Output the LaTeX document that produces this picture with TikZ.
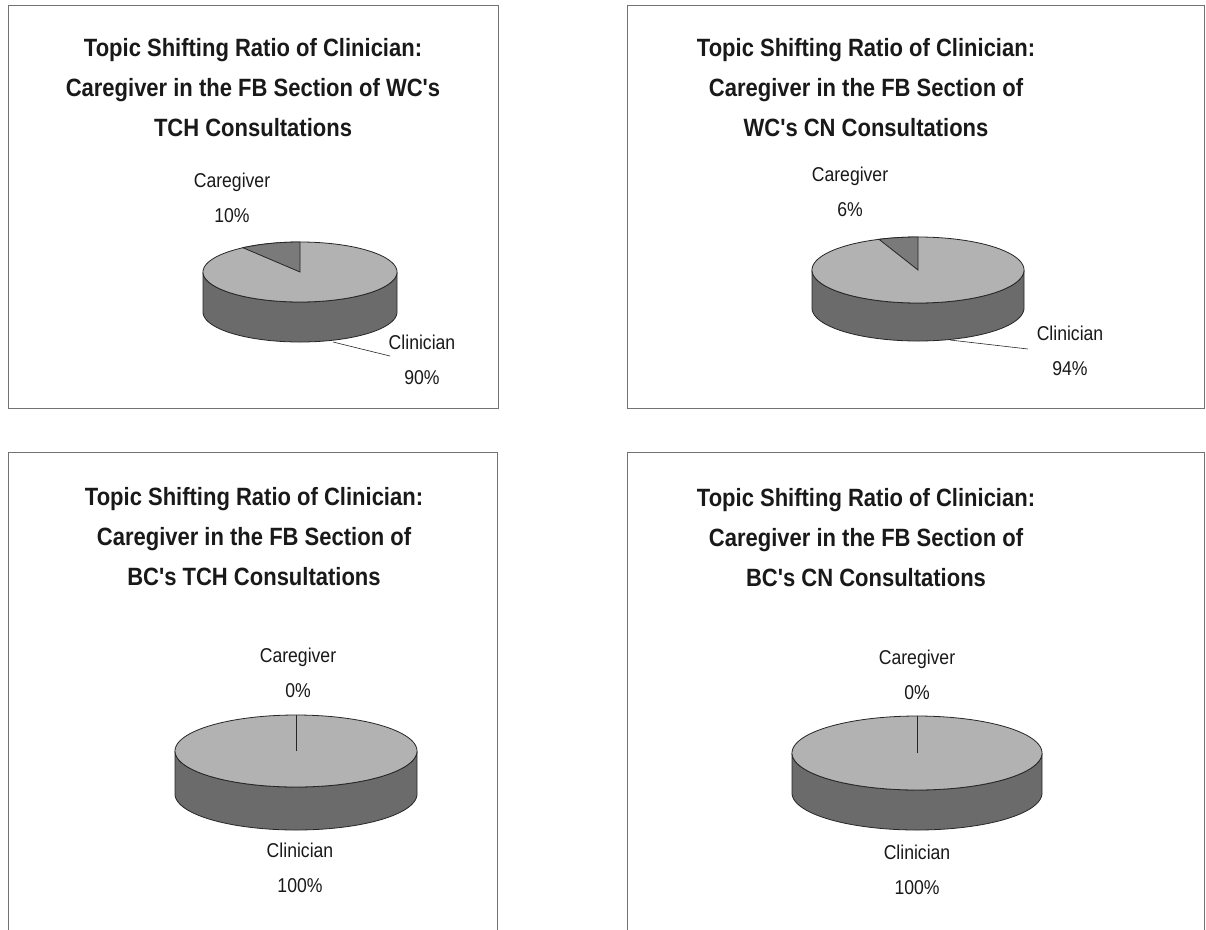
\documentclass[tikz,border=0pt]{standalone}
\usepackage{fontspec}
\setmainfont{Liberation Sans}
\newfontfamily\condfont{Liberation Sans}[FakeStretch=0.88]
\newcommand{\cylpie}[6]{%
  % #1 cx, #2 cy, #3 rx, #4 ry, #5 depth, #6 caregiver slice angle
  \filldraw[sideface] plot[domain=0:180,samples=90] ({#1+#3*cos(\x)},{#2+#5+#4*sin(\x)})
     -- plot[domain=180:0,samples=90] ({#1+#3*cos(\x)},{#2+#4*sin(\x)}) -- cycle;
  \filldraw[topface] plot[domain=0:360,samples=160] ({#1+#3*cos(\x)},{#2+#4*sin(\x)}) -- cycle;
  \filldraw[wedgeface] (#1,#2) -- plot[domain=-90:{-90-#6},samples=40] ({#1+#3*cos(\x)},{#2+#4*sin(\x)}) -- cycle;
}
\newcommand{\flatpie}[5]{%
  \filldraw[sideface] plot[domain=0:180,samples=90] ({#1+#3*cos(\x)},{#2+#5+#4*sin(\x)})
     -- plot[domain=180:0,samples=90] ({#1+#3*cos(\x)},{#2+#4*sin(\x)}) -- cycle;
  \filldraw[topface] plot[domain=0:360,samples=160] ({#1+#3*cos(\x)},{#2+#4*sin(\x)}) -- cycle;
  \draw[pieline] (#1,#2) -- (#1,{#2-#4});
}
\begin{document}
\begin{tikzpicture}[x=1pt,y=-1pt,
  panel/.style={draw=black!55, line width=0.8pt},
  ttl/.style={font=\condfont\bfseries\fontsize{25}{40}\selectfont, align=center, text=black!90, inner sep=0pt},
  lbl/.style={font=\condfont\fontsize{20}{35}\selectfont, align=center, text=black!90, inner sep=0pt},
  topface/.style={fill=black!30, draw=black!85, line width=0.8pt},
  sideface/.style={fill=black!58, draw=black!85, line width=0.8pt},
  wedgeface/.style={fill=black!52, draw=black!85, line width=0.8pt},
  pieline/.style={draw=black!85, line width=0.6pt},
  leader/.style={draw=black!85, line width=0.6pt}]
\useasboundingbox (0,0) rectangle (1206,929);
\fill[white] (0,0) rectangle (1206,929);

% panel frames
\draw[panel] (8,5) rectangle (498,408);
\draw[panel] (627,5) rectangle (1204,408);
\draw[panel] (8,935) -- (8,452) -- (497,452) -- (497,935);
\draw[panel] (627,935) -- (627,452) -- (1204,452) -- (1204,935);

% ---- panel 1
\node[ttl] (t1) at (253,88) {Topic Shifting Ratio of Clinician:\\Caregiver in the FB Section of WC's\\TCH Consultations};
\cylpie{300}{272}{97}{30}{40}{36}
\node[lbl] (c1) at (232,198) {Caregiver\\10\%};
\node[lbl] (k1) at (422,360) {Clinician\\90\%};
\coordinate (l1a) at (333,342);
\coordinate (l1b) at (390,356);
\draw[leader] (l1a) -- (l1b);

% ---- panel 2
\node[ttl] (t2) at (866,88) {Topic Shifting Ratio of Clinician:\\Caregiver in the FB Section of\\WC's CN Consultations};
\cylpie{918}{270}{106}{33}{38}{21.6}
\node[lbl] (c2) at (850,192) {Caregiver\\6\%};
\node[lbl] (k2) at (1070,351) {Clinician\\94\%};
\coordinate (l2a) at (950,340);
\coordinate (l2b) at (1028,349);
\draw[leader] (l2a) -- (l2b);

% ---- panel 3
\node[ttl] (t3) at (254,537) {Topic Shifting Ratio of Clinician:\\Caregiver in the FB Section of\\BC's TCH Consultations};
\flatpie{296}{751}{121}{36}{43}
\node[lbl] (c3) at (298,673) {Caregiver\\0\%};
\node[lbl] (k3) at (300,868) {Clinician\\100\%};

% ---- panel 4
\node[ttl] (t4) at (866,538) {Topic Shifting Ratio of Clinician:\\Caregiver in the FB Section of\\BC's CN Consultations};
\flatpie{917}{753}{125}{37}{40}
\node[lbl] (c4) at (917,675) {Caregiver\\0\%};
\node[lbl] (k4) at (917,870) {Clinician\\100\%};
\end{tikzpicture}
\end{document}
